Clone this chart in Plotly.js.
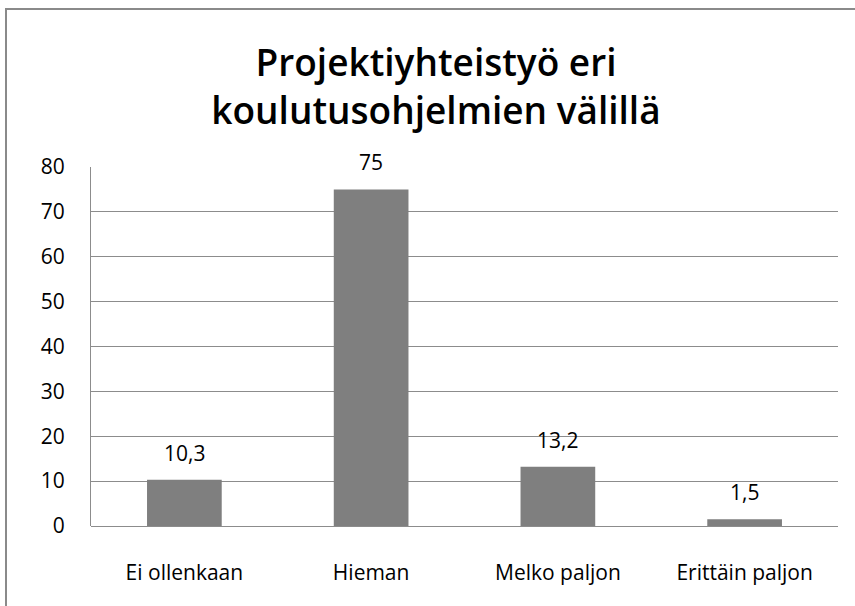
<!DOCTYPE html>
<html>
<head>
<meta charset="utf-8">
<script src="https://cdn.plot.ly/plotly-3.0.1.min.js"></script>
<style>
html,body{margin:0;padding:0;background:#fff;overflow:hidden;}
#frame{position:absolute;left:5px;top:8px;width:900px;height:700px;border:2px solid #8a8a8a;box-sizing:border-box;}
#chart{position:absolute;left:0;top:0;width:855px;height:606px;}
</style>
</head>
<body>
<div id="frame"></div>
<div id="chart"></div>
<script>
const categories = ["Ei ollenkaan", "Hieman", "Melko paljon", "Erittäin paljon"];
const values = [10.3, 75, 13.2, 1.5];
const yTicks = [0, 10, 20, 30, 40, 50, 60, 70, 80];
const titleText = "Projektiyhteistyö eri<br>koulutusohjelmien välillä";

const font = "Open Sans, Noto Sans, sans-serif";

const trace = {
  type: "bar",
  x: categories,
  y: values,
  marker: {color: "#7f7f7f"},
  width: 0.4,
  hoverinfo: "none"
};

const annotations = categories.map((c, i) => ({
  x: c, y: values[i], xref: "x", yref: "y",
  text: String(values[i]).replace(".", ","),
  showarrow: false, yanchor: "middle", yshift: 27,
  font: {family: font, size: 21, color: "#000"}
}));

const layout = {
  width: 855, height: 606,
  margin: {l: 91, r: 17, t: 167, b: 80},
  paper_bgcolor: "rgba(0,0,0,0)",
  plot_bgcolor: "rgba(0,0,0,0)",
  separators: ",.",
  showlegend: false,
  title: {
    text: titleText,
    xref: "container", x: 436/855, xanchor: "center",
    yref: "container", y: 1 - 76/606, yanchor: "middle",
    font: {family: font, size: 37, color: "#000", weight: 600}
  },
  xaxis: {
    type: "category",
    showgrid: false, zeroline: false, showline: false,
    ticks: "", ticklabelstandoff: 32,
    tickfont: {family: font, size: 21, color: "#000"}
  },
  yaxis: {
    range: [0, 80],
    tickvals: yTicks,
    ticktext: yTicks.map(String),
    showgrid: true, gridcolor: "#8c8c8c", gridwidth: 1,
    zeroline: true, zerolinecolor: "#8c8c8c", zerolinewidth: 1,
    showline: true, linecolor: "#8c8c8c", linewidth: 1,
    ticks: "", ticklabelstandoff: 21,
    tickfont: {family: font, size: 21, color: "#000"}
  },
  annotations: annotations
};

Plotly.newPlot("chart", [trace], layout, {displayModeBar: false, staticPlot: true});
</script>
</body>
</html>
